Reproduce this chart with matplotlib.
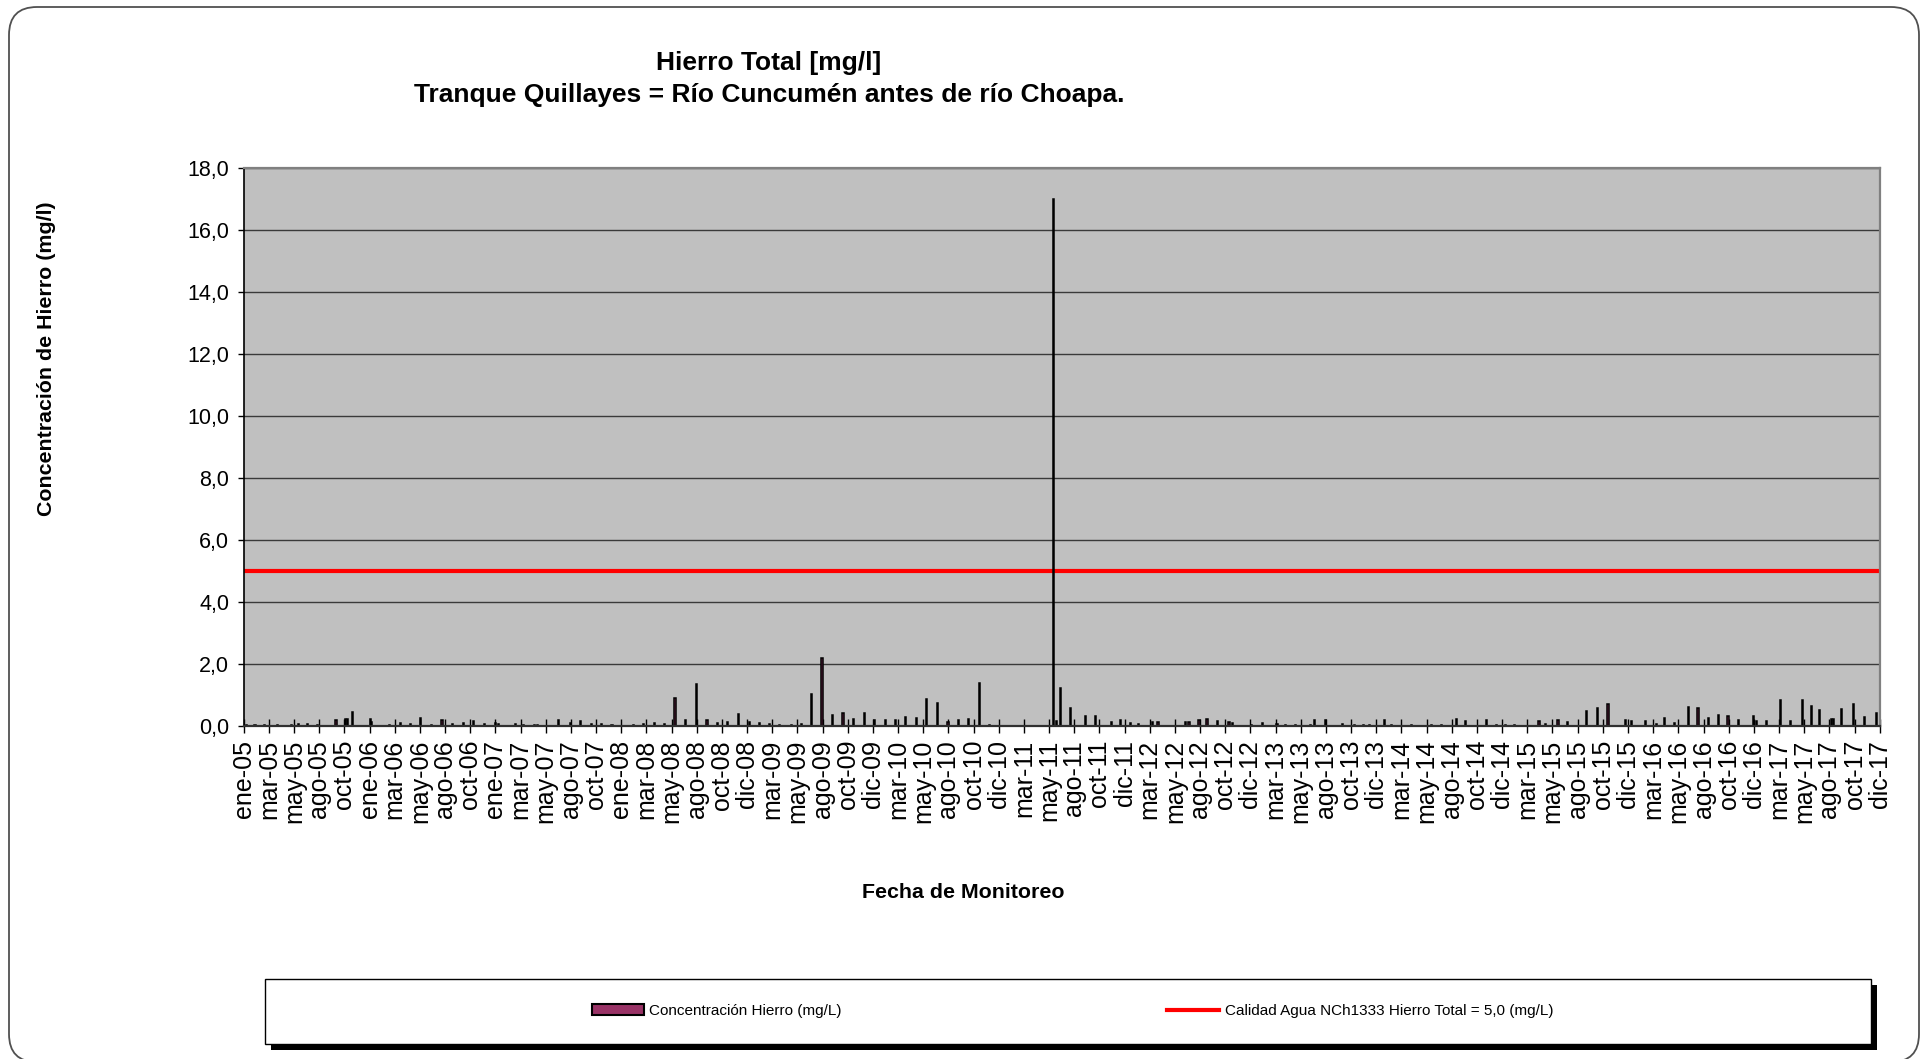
import datetime as dt
import matplotlib
matplotlib.use("Agg")
import matplotlib.pyplot as plt
import matplotlib.dates as mdates
from matplotlib.patches import FancyBboxPatch, Rectangle, Patch
from matplotlib.lines import Line2D
from matplotlib.ticker import FuncFormatter

plt.rcParams['font.family'] = ['Liberation Sans', 'DejaVu Sans']

# ---------------- data ----------------
titulo_1 = "Hierro Total [mg/l]"
titulo_2 = "Tranque Quillayes = Río Cuncumén antes de río Choapa."
eje_y = "Concentración de Hierro (mg/l)"
eje_x = "Fecha de Monitoreo"
serie_nombre = "Concentración Hierro (mg/L)"
norma_nombre = "Calidad Agua NCh1333 Hierro Total = 5,0 (mg/L)"
norma = 5.0

fechas = [
    "2005-01-08", "2005-02-03", "2005-03-02", "2005-04-08", "2005-05-19", "2005-06-08",
    "2005-07-06", "2005-08-02", "2005-09-26", "2005-10-23", "2005-10-28", "2005-11-12",
    "2006-01-03", "2006-01-07", "2006-02-28", "2006-03-31", "2006-04-29", "2006-05-29",
    "2006-06-29", "2006-07-30", "2006-08-29", "2006-09-30", "2006-10-29", "2006-12-01",
    "2007-01-02", "2007-01-11", "2007-03-01", "2007-03-24", "2007-04-25", "2007-05-04",
    "2007-07-04", "2007-08-06", "2007-09-05", "2007-10-06", "2007-11-04", "2007-12-05",
    "2008-02-05", "2008-03-05", "2008-04-06", "2008-05-06", "2008-06-05", "2008-07-05",
    "2008-08-06", "2008-09-06", "2008-10-06", "2008-11-05", "2008-12-07", "2009-01-06",
    "2009-02-05", "2009-03-07", "2009-04-04", "2009-05-08", "2009-06-06", "2009-07-05",
    "2009-08-05", "2009-09-05", "2009-10-05", "2009-11-05", "2009-12-06", "2010-01-05",
    "2010-02-05", "2010-03-06", "2010-04-05", "2010-05-06", "2010-06-05", "2010-07-06",
    "2010-08-06", "2010-09-06", "2010-10-05", "2010-11-05", "2010-12-05", "2011-06-08",
    "2011-06-16", "2011-06-29", "2011-07-27", "2011-09-08", "2011-10-08", "2011-11-22",
    "2011-12-19", "2012-01-18", "2012-02-09", "2012-03-22", "2012-04-06", "2012-06-25",
    "2012-07-05", "2012-08-03", "2012-08-26", "2012-09-25", "2012-10-29", "2012-11-09",
    "2013-01-03", "2013-02-02", "2013-03-17", "2013-04-10", "2013-05-09", "2013-06-22",
    "2013-07-04", "2013-08-04", "2013-09-24", "2013-10-28", "2013-11-23", "2013-12-11",
    "2014-01-23", "2014-02-13", "2014-04-11", "2014-06-08", "2014-07-07", "2014-08-19",
    "2014-09-14", "2014-11-14", "2014-12-13", "2015-01-09", "2015-02-04", "2015-04-16",
    "2015-05-04", "2015-06-10", "2015-07-07", "2015-09-01", "2015-10-03", "2015-11-02",
    "2015-12-23", "2016-01-09", "2016-02-18", "2016-03-21", "2016-04-14", "2016-05-12",
    "2016-06-22", "2016-07-20", "2016-08-19", "2016-09-17", "2016-10-15", "2016-11-14",
    "2016-12-28", "2017-01-05", "2017-02-03", "2017-03-16", "2017-04-14", "2017-05-18",
    "2017-06-14", "2017-07-08", "2017-08-11", "2017-08-18", "2017-09-10", "2017-10-13",
    "2017-11-15", "2017-12-19",
]

hierro = [
    0.02, 0.02, 0.03, 0.02, 0.03, 0.08,
    0.08, 0.02, 0.19, 0.23, 0.23, 0.45,
    0.21, 0.14, 0.02, 0.10, 0.08, 0.27,
    0.02, 0.18, 0.06, 0.10, 0.16, 0.08,
    0.10, 0.08, 0.05, 0.02, 0.03, 0.03,
    0.19, 0.10, 0.15, 0.06, 0.07, 0.02,
    0.02, 0.06, 0.10, 0.07, 0.91, 0.18,
    1.35, 0.19, 0.10, 0.14, 0.39, 0.12,
    0.10, 0.05, 0.02, 0.03, 0.08, 1.02,
    2.19, 0.35, 0.43, 0.22, 0.43, 0.18,
    0.18, 0.18, 0.30, 0.27, 0.86, 0.73,
    0.12, 0.18, 0.22, 1.39, 0.02, 17.0,
    0.17, 1.21, 0.59, 0.31, 0.31, 0.13,
    0.20, 0.10, 0.08, 0.13, 0.14, 0.13,
    0.14, 0.20, 0.22, 0.16, 0.13, 0.10,
    0.04, 0.10, 0.07, 0.02, 0.02, 0.04,
    0.19, 0.18, 0.07, 0.04, 0.02, 0.02,
    0.19, 0.02, 0.02, 0.02, 0.02, 0.23,
    0.15, 0.19, 0.02, 0.02, 0.02, 0.15,
    0.05, 0.19, 0.12, 0.50, 0.57, 0.72,
    0.20, 0.15, 0.17, 0.07, 0.27, 0.10,
    0.62, 0.59, 0.26, 0.35, 0.32, 0.19,
    0.31, 0.15, 0.17, 0.85, 0.15, 0.85,
    0.66, 0.53, 0.23, 0.23, 0.55, 0.70,
    0.29, 0.41,
]

etiquetas_x = [
    "ene-05", "mar-05", "may-05", "ago-05", "oct-05",
    "ene-06", "mar-06", "may-06", "ago-06", "oct-06",
    "ene-07", "mar-07", "may-07", "ago-07", "oct-07",
    "ene-08", "mar-08", "may-08", "ago-08", "oct-08", "dic-08",
    "mar-09", "may-09", "ago-09", "oct-09", "dic-09",
    "mar-10", "may-10", "ago-10", "oct-10", "dic-10",
    "mar-11", "may-11", "ago-11", "oct-11", "dic-11",
    "mar-12", "may-12", "ago-12", "oct-12", "dic-12",
    "mar-13", "may-13", "ago-13", "oct-13", "dic-13",
    "mar-14", "may-14", "ago-14", "oct-14", "dic-14",
    "mar-15", "may-15", "ago-15", "oct-15", "dic-15",
    "mar-16", "may-16", "ago-16", "oct-16", "dic-16",
    "mar-17", "may-17", "ago-17", "oct-17", "dic-17",
]
inicio_eje = "2005-01-01"
paso_dias = 73  # date-axis major unit (days)

# ---------------- figure ----------------
W, H = 1929, 1059
fig = plt.figure(figsize=(W / 100, H / 100), dpi=100)
fig.patch.set_facecolor("white")

# chart-area rounded border
border = FancyBboxPatch((0.09, -0.03), 19.10, 10.55,
                        boxstyle="round,pad=0,rounding_size=0.28",
                        transform=fig.dpi_scale_trans, fill=False,
                        ec="#505050", lw=1.3, clip_on=False)
fig.add_artist(border)

ax = fig.add_axes([243.7 / W, 1 - 726 / H, 1636 / W, 558 / H])
ax.set_facecolor("#C0C0C0")

x = [dt.datetime.strptime(s, "%Y-%m-%d") for s in fechas]
ax.bar(x, hierro, width=3.5, color="#993366", edgecolor="black",
       linewidth=1.1, zorder=3)
ax.axhline(norma, color="#FF0000", lw=3, zorder=2.5)

x0 = mdates.date2num(dt.datetime.strptime(inicio_eje, "%Y-%m-%d"))
ticks = [x0 + paso_dias * k for k in range(len(etiquetas_x))]
ax.set_xlim(ticks[0], ticks[-1])
ax.set_xticks(ticks)
ax.set_xticklabels(etiquetas_x, rotation=90, fontsize=18)

ax.set_ylim(0, 18)
ax.set_yticks([0, 2, 4, 6, 8, 10, 12, 14, 16, 18])
ax.yaxis.set_major_formatter(FuncFormatter(lambda v, p: f"{v:.1f}".replace(".", ",")))
ax.tick_params(axis="y", direction="out", length=4.5, width=1, pad=6, labelsize=15.5,
               colors="black")
ax.tick_params(axis="x", direction="inout", length=10, width=1, pad=5, colors="black")

ax.yaxis.grid(True, color="#3a3a3a", lw=1)
ax.set_axisbelow(True)

ax.spines["left"].set_color("black")
ax.spines["left"].set_linewidth(1.2)
ax.spines["bottom"].set_color("#303030")
ax.spines["bottom"].set_linewidth(1.6)
ax.spines["bottom"].set_zorder(4)
for s in ("top", "right"):
    ax.spines[s].set_color("#808080")
    ax.spines[s].set_linewidth(1.6)

ax.set_ylabel(eje_y, fontsize=15.4, fontweight="bold", va="center")
ax.yaxis.set_label_coords((47 - 243.7) / 1636, (726 - 359) / 558)
ax.set_xlabel(eje_x, fontsize=15.4, fontweight="bold", va="center")
ax.xaxis.set_label_coords((963 - 243.7) / 1636, -(892 - 726) / 558)

fig.text(769 / W, 1 - 63 / H, titulo_1, ha="center", va="center",
         fontsize=19, fontweight="bold")
fig.text(769 / W, 1 - 95 / H, titulo_2, ha="center", va="center",
         fontsize=19, fontweight="bold")

# legend box with shadow
shadow = Rectangle((2.645 + 0.06, 0.15 - 0.06), 16.065, 0.65,
                   transform=fig.dpi_scale_trans, fc="black", ec="black", lw=0)
box = Rectangle((2.645, 0.15), 16.065, 0.65, transform=fig.dpi_scale_trans,
                fc="white", ec="black", lw=1)
fig.add_artist(shadow)
fig.add_artist(box)

handles = [Patch(facecolor="#993366", edgecolor="black", lw=1.5),
           Line2D([], [], color="#FF0000", lw=3)]
leg = fig.legend(handles, [serie_nombre, norma_nombre], loc="center left",
                 bbox_to_anchor=(592 / W, 1 - 1011 / H), ncol=2, frameon=False,
                 fontsize=11, handlelength=3.4, handleheight=0.7,
                 handletextpad=0.35, columnspacing=21.3, borderpad=0,
                 borderaxespad=0)

fig.savefig("out.png", dpi=100)
